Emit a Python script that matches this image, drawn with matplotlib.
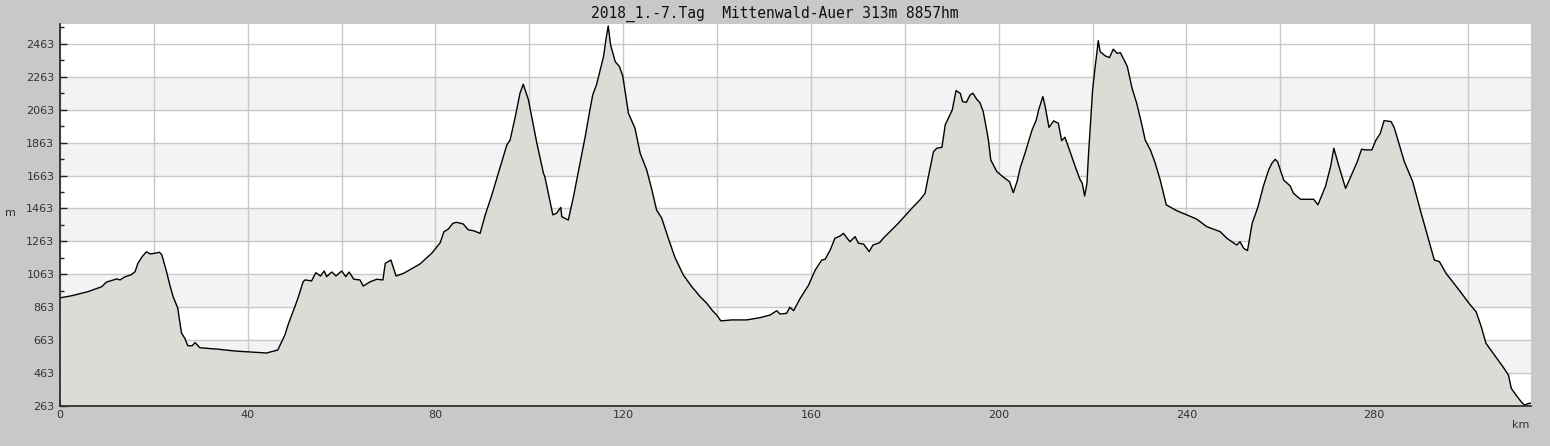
import numpy as np
import matplotlib
matplotlib.use("Agg")
import matplotlib.pyplot as plt
from matplotlib.ticker import MultipleLocator, FixedLocator

title = "2018_1.-7.Tag  Mittenwald-Auer 313m 8857hm"

# distance (km) and elevation (m)
km = [0.0, 2.5, 6.0, 8.9, 9.9, 12.1, 12.8, 13.9, 15.1, 16.0, 16.6, 17.5, 18.4, 19.2, 20.2,
      21.2, 21.7, 22.7, 23.4, 24.1, 25.1, 25.4, 25.9, 26.6, 27.2, 28.1, 28.8, 29.8, 33.7,
      37.3, 40.8, 44.0, 46.4, 47.9, 48.7, 50.1, 50.8, 51.8, 52.2, 53.6, 54.5, 55.5, 56.3,
      56.8, 57.9, 58.8, 60.0, 60.9, 61.6, 62.6, 63.9, 64.6, 66.1, 67.5, 68.8, 69.3, 70.5,
      71.6, 73.2, 76.7, 79.2, 81.0, 81.8, 82.7, 83.7, 84.5, 85.9, 87.0, 88.1, 89.5, 90.6,
      92.0, 93.8, 95.2, 95.9, 97.0, 98.0, 98.7, 99.8, 101.6, 103.0, 103.3, 105.0, 105.8,
      106.7, 106.9, 108.3, 109.4, 110.8, 111.9, 112.9, 113.5, 114.3, 115.1, 115.8, 116.3,
      116.8, 117.3, 118.3, 119.2, 119.9, 121.1, 122.5, 123.6, 125.0, 126.1, 127.1, 128.2,
      129.6, 131.0, 132.8, 134.6, 136.4, 137.8, 138.9, 139.9, 140.8, 143.1, 146.3, 149.2,
      151.3, 152.7, 153.4, 154.8, 155.5, 156.3, 157.7, 159.5, 160.9, 162.3, 163.0, 164.1,
      165.1, 166.2, 166.9, 168.3, 169.4, 170.1, 171.2, 172.4, 173.2, 174.6, 175.4, 177.2,
      178.6, 180.4, 181.8, 183.2, 184.3, 185.0, 186.1, 186.8, 187.9, 188.6, 189.6, 190.1,
      190.9, 191.8, 192.3, 193.1, 193.9, 194.5, 195.3, 196.0, 196.7, 197.3, 197.8, 198.3,
      199.6, 201.0, 202.3, 203.1, 203.9, 204.6, 205.6, 207.1, 208.0, 208.5, 209.4, 209.9,
      210.7, 211.7, 212.7, 213.4, 214.1, 215.2, 216.3, 217.3, 217.8, 218.3, 218.8, 219.1,
      219.6, 220.0, 220.5, 220.9, 221.2, 221.6, 222.7, 223.6, 224.4, 225.2, 225.9, 226.9,
      227.4, 228.4, 229.4, 230.5, 231.2, 232.3, 233.3, 234.4, 235.7, 237.9, 240.1, 242.2,
      244.3, 247.2, 248.6, 250.7, 251.4, 252.2, 253.0, 254.0, 255.2, 256.4, 257.5, 258.2,
      258.9, 259.4, 260.7, 262.1, 262.8, 264.3, 267.1, 268.0, 269.6, 270.7, 271.4, 272.4,
      273.9, 275.3, 276.4, 277.3, 278.2, 279.5, 280.3, 281.3, 282.1, 283.6, 284.3, 286.4,
      288.2, 290.0, 291.4, 292.8, 293.9, 295.3, 297.8, 300.3, 301.7, 302.8, 303.8, 305.6,
      307.4, 308.6, 309.2, 310.2, 311.3, 312.0, 313.0, 313.5]
elev = [920, 933, 958, 988, 1016, 1035, 1029, 1049, 1059, 1079, 1130, 1170, 1200, 1187, 1191,
        1197, 1181, 1079, 998, 927, 857, 796, 705, 674, 630, 628, 648, 617, 608,
        597, 591, 585, 603, 694, 765, 871, 927, 1018, 1029, 1023, 1073, 1053, 1083,
        1049, 1077, 1053, 1083, 1049, 1077, 1033, 1029, 992, 1018, 1033, 1029, 1130, 1150,
        1053, 1069, 1126, 1191, 1255, 1322, 1337, 1373, 1379, 1369, 1333, 1328, 1312, 1424,
        1545, 1717, 1849, 1879, 2021, 2163, 2218, 2123, 1859, 1677, 1656, 1424, 1434,
        1470, 1413, 1393, 1535, 1738, 1900, 2062, 2153, 2214, 2305, 2386, 2487,
        2572, 2457, 2355, 2325, 2268, 2042, 1951, 1799, 1697, 1576, 1454, 1404,
        1282, 1167, 1059, 988, 927, 887, 846, 816, 780, 786, 786, 800,
        816, 842, 822, 826, 863, 842, 917, 998, 1089, 1150, 1154, 1211,
        1282, 1296, 1312, 1261, 1292, 1252, 1247, 1201, 1241, 1255, 1282, 1333,
        1373, 1430, 1474, 1515, 1555, 1656, 1808, 1829, 1835, 1971, 2031, 2062,
        2179, 2163, 2112, 2108, 2153, 2163, 2127, 2106, 2051, 1960, 1879, 1758,
        1687, 1653, 1626, 1559, 1626, 1712, 1799, 1940, 2001, 2062, 2143, 2082,
        1956, 1995, 1981, 1875, 1896, 1808, 1717, 1640, 1616, 1539, 1616, 1778,
        2001, 2183, 2315, 2406, 2483, 2416, 2390, 2380, 2431, 2406, 2410, 2355,
        2325, 2194, 2102, 1971, 1879, 1819, 1742, 1636, 1485, 1450, 1424, 1398,
        1353, 1322, 1282, 1241, 1261, 1221, 1207, 1373, 1470, 1600, 1697, 1738,
        1762, 1748, 1636, 1600, 1555, 1519, 1519, 1485, 1596, 1717, 1829, 1727,
        1585, 1677, 1748, 1823, 1819, 1819, 1875, 1920, 1997, 1991, 1951, 1748,
        1626, 1434, 1292, 1150, 1140, 1069, 978, 883, 836, 745, 644, 573,
        502, 451, 370, 330, 289, 269, 279, 279]

y_ticks = [263, 463, 663, 863, 1063, 1263, 1463, 1663, 1863, 2063, 2263, 2463]
x_labels = [0, 40, 80, 120, 160, 200, 240, 280]

bg = "#c8c8c8"
fig = plt.figure(figsize=(15.5, 4.46), dpi=100, facecolor=bg)
ax = fig.add_axes([60 / 1550, 40 / 446, 1471 / 1550, 382 / 446])
ax.set_facecolor("white")

ymin, ymax = 263, 2584
xmax = 313.4

# alternating bands
for i in range(1, len(y_ticks) - 1, 2):
    ax.axhspan(y_ticks[i], y_ticks[i + 1], color="#f3f2f5", zorder=0, lw=0)

ax.fill_between(km, elev, ymin, color="#dcdbd6", zorder=2, lw=0)
ax.plot(km, elev, color="black", lw=1.0, zorder=3)

ax.set_xlim(0, xmax)
ax.set_ylim(ymin, ymax)

ax.xaxis.set_major_locator(MultipleLocator(20))
ax.xaxis.set_minor_locator(MultipleLocator(10))
ax.xaxis.set_major_formatter(plt.FuncFormatter(lambda v, p: f"{int(v)}" if int(round(v)) in x_labels else ""))
ax.yaxis.set_major_locator(FixedLocator(y_ticks))
ax.yaxis.set_minor_locator(FixedLocator(list(range(363, 2584, 200))))

ax.grid(True, which="major", color="#c8c8c8", lw=1, zorder=1)
ax.set_axisbelow(True)

for s in ["top", "right"]:
    ax.spines[s].set_visible(False)
for s in ["left", "bottom"]:
    ax.spines[s].set_color("#222222")
    ax.spines[s].set_linewidth(1.2)
    ax.spines[s].set_zorder(4)

ax.tick_params(which="major", direction="in", length=5, width=1, color="#222222",
               labelsize=8, labelcolor="#333333", pad=3)
ax.tick_params(which="minor", direction="in", length=3, width=1, color="#222222")
ax.tick_params(axis="y", which="major", pad=4)

fig.text(0.5, 1 - 14 / 446, title, ha="center", va="center",
         family="DejaVu Sans Mono", fontsize=10.5, color="#111111")
fig.text(10 / 1550, 1 - 213 / 446, "m", ha="center", va="center", fontsize=8, color="#333333")
fig.text(1521 / 1550, 1 - 425 / 446, "km", ha="center", va="center", fontsize=8, color="#333333")

fig.savefig("out.png", dpi=100, facecolor=bg)
